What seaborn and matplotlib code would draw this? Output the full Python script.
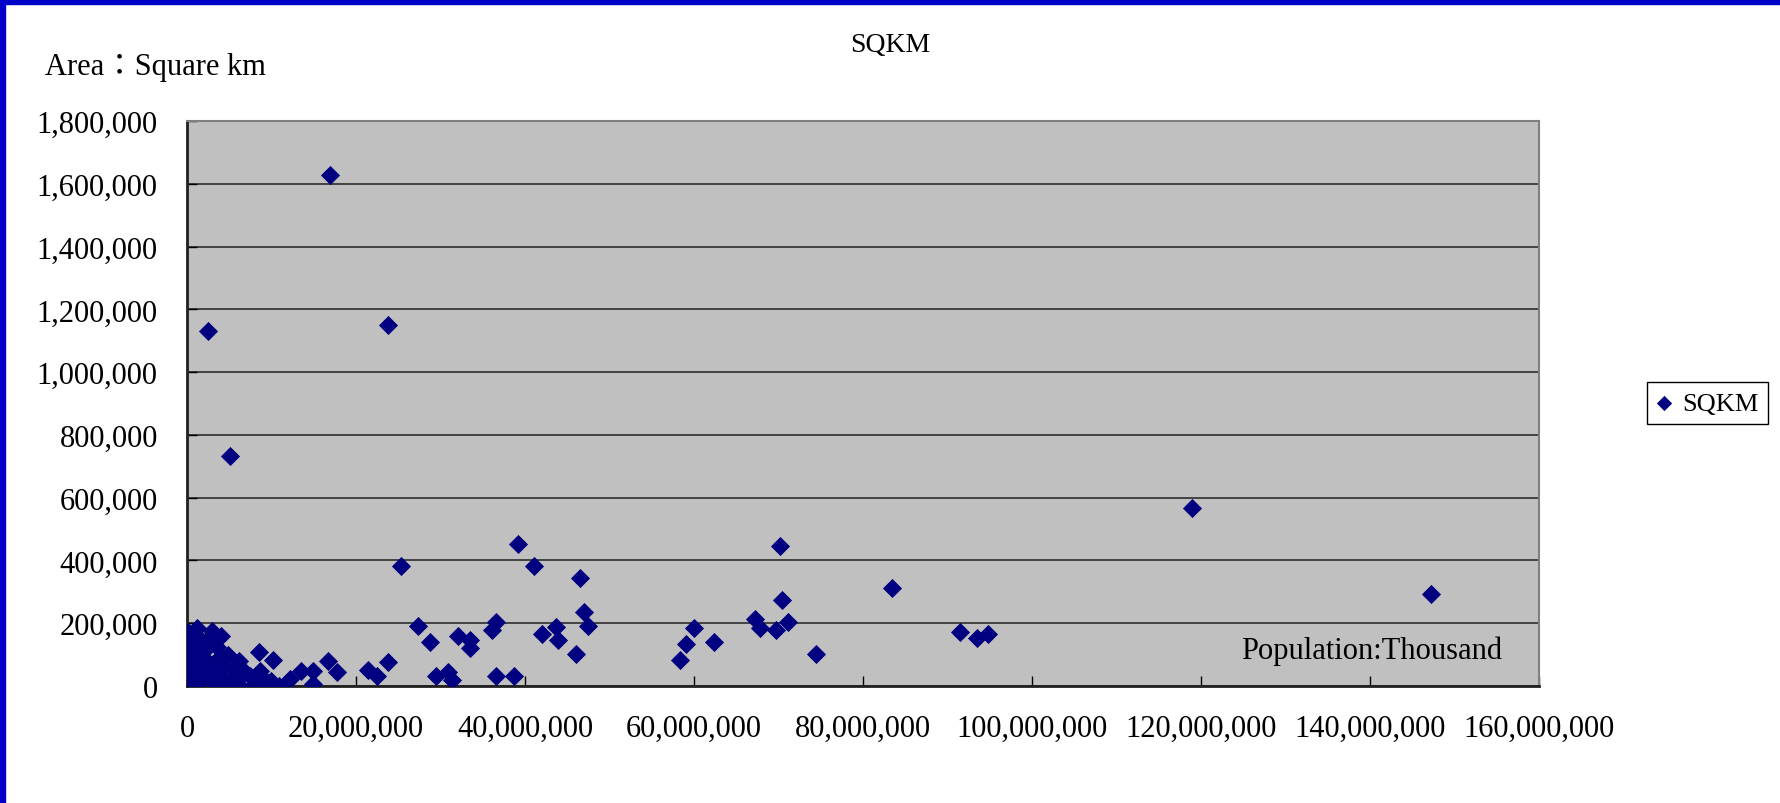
import numpy as np
import pandas as pd
import seaborn as sns
import matplotlib.pyplot as plt
from matplotlib.ticker import FuncFormatter, MultipleLocator
from matplotlib.patches import Rectangle

# Population (millions) and area (thousand sq km)
population_m = [
    1.15, 2.92, 4.02, 0.1, 0.15, 1.54, 0.75, 1.93, 0.1, 2.33, 3.9, 4.89, 6.19, 8.48,
    10.14, 8.64, 7.46, 6.86, 5.48, 4.3, 0.1, 0.1, 1.54, 3.11, 4.7, 6.07, 7.85, 9.43,
    8.64, 9.9, 10.92, 12.19, 13.5, 14.87, 14.87, 1.54, 3.11, 0.75, 3.11, 4.3, 5.68,
    0.3, 0.5, 1.0, 2.0, 2.5, 0.4, 1.0, 2.2, 0.6, 3.5, 1.2, 2.7, 5.3, 6.5, 3.6,
    16.73, 17.71, 21.46, 22.45, 23.82,
    2.52, 16.92, 23.79, 5.12,
    25.33, 27.37, 28.76, 29.47, 30.93, 31.4, 32.07, 33.49, 33.49, 36.06, 36.57, 36.57,
    38.74, 39.17, 41.07, 42.01, 43.71, 43.91, 46.04, 46.51, 46.98, 47.46,
    58.34, 59.05, 59.96, 62.37, 67.25, 67.81, 69.66, 70.18, 70.41, 71.09, 74.4, 83.4,
    91.48, 93.53, 94.76, 118.9, 147.2,
]
area_k = [
    184, 174, 160, 171, 139, 150, 118, 107, 86, 81, 91, 99, 81, 109,
    84, 49, 33, 44, 54, 60, 49, 17, 12, 12, 12, 6, 1, 12,
    17, 17, 1, 22, 49, 47, 6, 33, 38, 65, 70, 22, 28,
    100, 130, 90, 130, 150, 30, 3, 55, 160, 125, 70, 25, 15, 45, 5,
    79, 46, 52, 31, 77,
    1132, 1627, 1151, 732,
    381, 192, 141, 33, 44, 20, 160, 147, 120, 178, 205, 33,
    33, 452, 382, 167, 187, 147, 103, 344, 236, 192,
    83, 135, 185, 140, 213, 184, 178, 445, 275, 204, 103, 312,
    172, 153, 166, 566, 293,
]

df = pd.DataFrame({
    "population": np.array(population_m) * 1e6,
    "sqkm": np.array(area_k) * 1e3,
})

plt.rcParams['font.family'] = ['Liberation Serif', 'Noto Sans CJK JP']

W, H = 1780, 804
fig = plt.figure(figsize=(W / 100, H / 100), dpi=100)
ax = fig.add_axes([187 / W, 1 - 687 / H, (1539 - 187) / W, (687 - 122) / H])
ax.set_facecolor('#C0C0C0')

sns.scatterplot(
    data=df, x="population", y="sqkm", ax=ax,
    marker="D", color="#000080", s=95, linewidth=0, label="SQKM", zorder=3
)

ax.set_xlim(0, 160e6)
ax.set_ylim(0, 1.8e6)
ax.xaxis.set_major_locator(MultipleLocator(20e6))
ax.yaxis.set_major_locator(MultipleLocator(200e3))
fmt = FuncFormatter(lambda v, p: f"{v:,.0f}")
ax.xaxis.set_major_formatter(fmt)
ax.yaxis.set_major_formatter(fmt)
ax.tick_params(axis='both', direction='in', length=7, width=1, colors='black',
               labelsize=22, top=False, right=False)
ax.tick_params(axis='x', pad=20)
ax.tick_params(axis='y', pad=21)
ax.set_xlabel("")
ax.set_ylabel("")

ax.yaxis.grid(True, color='#202020', linewidth=1.1)
ax.xaxis.grid(False)
ax.set_axisbelow(True)

for side in ['left', 'bottom']:
    ax.spines[side].set_color('#202020')
    ax.spines[side].set_linewidth(2)
for side in ['top', 'right']:
    ax.spines[side].set_color('#808080')
    ax.spines[side].set_linewidth(1.5)

# texts
fig.text(0.5, 1 - 45 / H, "SQKM", ha='center', va='center', fontsize=20)
fig.text(45 / W, 1 - 68 / H, "Area：Square km", ha='left', va='center', fontsize=22)
fig.text(1502 / W, 1 - 651 / H, "Population:Thousand", ha='right', va='center',
         fontsize=22, zorder=5)

leg = ax.legend(loc='center left', bbox_to_anchor=(1647 / W, 1 - 404 / H),
                bbox_transform=fig.transFigure, borderaxespad=0, fontsize=19,
                frameon=True, fancybox=False, edgecolor='black', framealpha=1,
                handlelength=0.6, handletextpad=0.4, borderpad=0.35,
                markerscale=0.8)
leg.get_frame().set_linewidth(1)

# blue frame on top and left
fig.patches.append(Rectangle((0, 1 - 5 / H), 1, 5 / H, transform=fig.transFigure,
                             color='#0000C8', zorder=10))
fig.patches.append(Rectangle((0, 0), 5 / W, 1, transform=fig.transFigure,
                             color='#0000C8', zorder=10))

fig.savefig('out.png', dpi=100, facecolor='white')
